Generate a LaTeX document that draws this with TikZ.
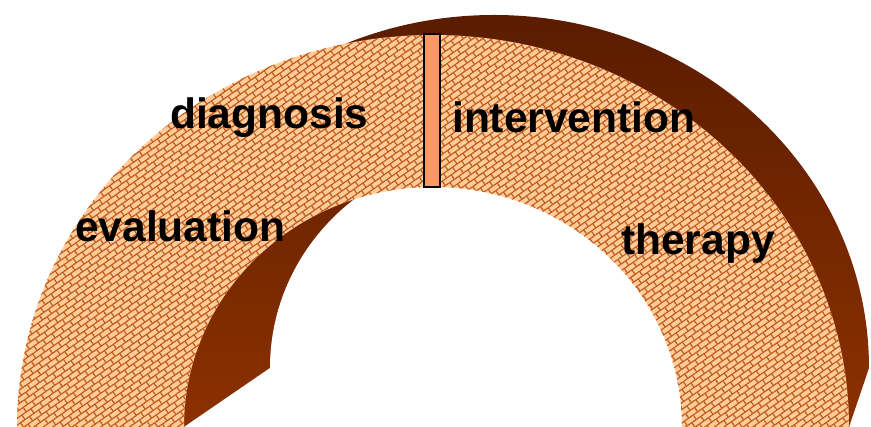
\documentclass[tikz,border=0pt]{standalone}
\usepackage{fontspec}
\setmainfont{Liberation Sans}
\usetikzlibrary{patterns.meta}
\definecolor{peach}{HTML}{FFCC99}
\definecolor{mortar}{HTML}{C05A1C}
\definecolor{browntop}{HTML}{5A1C00}
\definecolor{brownbot}{HTML}{8C3100}
\definecolor{salmon}{HTML}{FF9966}
\pgfdeclarepattern{
  name=slantbricks,
  type=uncolored,
  bottom left={\pgfpoint{-0.5pt}{-0.5pt}},
  top right={\pgfpoint{11.5pt}{11.5pt}},
  tile size={\pgfpoint{11pt}{11pt}},
  tile transformation={\pgftransformrotate{35}},
  code={
    \pgfsetlinewidth{1.1pt}
    \pgfpathmoveto{\pgfpoint{-0.5pt}{2.75pt}}\pgfpathlineto{\pgfpoint{11.5pt}{2.75pt}}
    \pgfpathmoveto{\pgfpoint{-0.5pt}{8.25pt}}\pgfpathlineto{\pgfpoint{11.5pt}{8.25pt}}
    \pgfpathmoveto{\pgfpoint{2.75pt}{2.75pt}}\pgfpathlineto{\pgfpoint{2.75pt}{8.25pt}}
    \pgfpathmoveto{\pgfpoint{8.25pt}{8.25pt}}\pgfpathlineto{\pgfpoint{8.25pt}{11.5pt}}
    \pgfpathmoveto{\pgfpoint{8.25pt}{-0.5pt}}\pgfpathlineto{\pgfpoint{8.25pt}{2.75pt}}
    \pgfusepath{stroke}
  }
}
\tikzset{
  label/.style={anchor=base west, inner sep=0pt, font=\fontsize{42.5}{50}\selectfont\bfseries, text=black},
  divider/.style={draw=black, line width=1.3pt, fill=salmon, inner sep=0pt, minimum width=16pt, minimum height=153pt}
}
\begin{document}
\begin{tikzpicture}[x=1pt,y=1pt]
\useasboundingbox (0,0) rectangle (871,427);
\clip (0,0) rectangle (871,427);
% outer extrusion (brown)
\shade[top color=browntop, bottom color=brownbot]
  (849,0) -- (869,59) arc[start angle=0,end angle=180,x radius=375,y radius=353] -- (17,0) -- cycle;
% hole seen through the arch
\fill[white] (184,0) -- (270,59) arc[start angle=180,end angle=0,x radius=224,y radius=216] -- (760,0) -- cycle;
% front face with bricks
\fill[peach] (17,0) arc[start angle=180,end angle=0,x radius=416,y radius=392]
  -- (682,0) arc[start angle=0,end angle=180,x radius=249,y radius=240] -- cycle;
\fill[pattern=slantbricks, pattern color=mortar] (17,0) arc[start angle=180,end angle=0,x radius=416,y radius=392]
  -- (682,0) arc[start angle=0,end angle=180,x radius=249,y radius=240] -- cycle;
% divider
\node[divider] (div) at (432,316.5) {};
% labels
\node[label] (diag) at (170,298) {diagnosis};
\node[label] (interv) at (452,294) {intervention};
\node[label] (eval) at (75,185) {evaluation};
\node[label] (ther) at (621,172) {therapy};
\end{tikzpicture}
\end{document}
